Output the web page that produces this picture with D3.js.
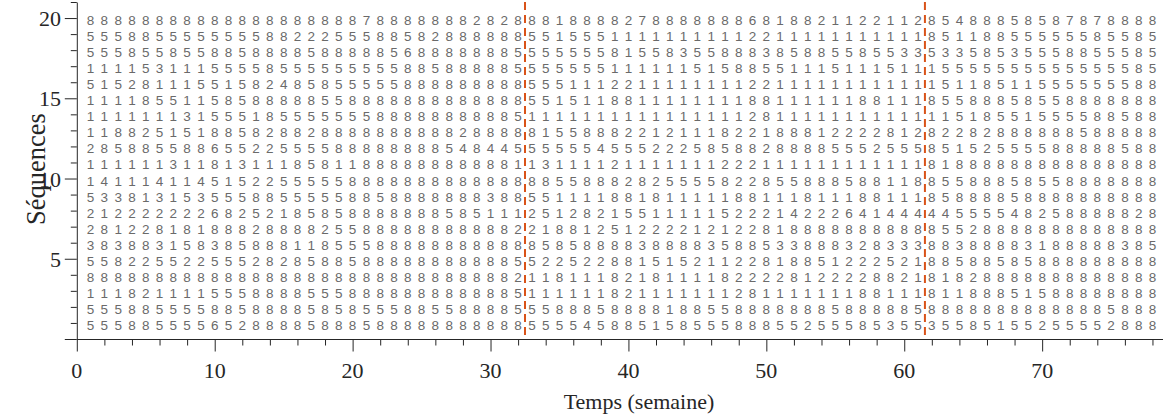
<!DOCTYPE html>
<html><head><meta charset="utf-8">
<script src="https://cdn.jsdelivr.net/npm/d3@7"></script>
<style>body{margin:0;background:#fff;overflow:hidden}</style>
</head><body><svg id="c" width="1163" height="419"></svg>
<script>
// ---- data ----
const weeks = d3.range(1, 79);            // 78 weeks
const sequenceIds = d3.range(1, 21);      // 20 sequences (1 = bottom)
// one string per sequence, states for weeks 1..78 (sequence 1 first)
const sequences = [
  "55588555565288885888" + "588888888888" + "555545885" + "15855588855255585355" + "35585155255552888",
  "55588555588588885858" + "555885588885" + "558885888" + "81885588888885888885" + "88888888888885888",
  "11182111155588885558" + "888888888885" + "111111821" + "11111128111111188111" + "81188851588888888",
  "88888888888888888888" + "888888888882" + "118111821" + "81111822228122228821" + "81828888888888888",
  "55822552255528285885" + "888888888885" + "522522881" + "51521122818851222521" + "88588585888888888",
  "38388315838588811855" + "588888888888" + "858588883" + "88883588533888328333" + "88388883188888385",
  "28122818188828888255" + "888888888882" + "218812512" + "22212122818888888888" + "85528888888888888",
  "21222222268252185858" + "888888585111" + "251282155" + "11111522214222641444" + "44555548258888828",
  "53381315355588555558" + "858888888388" + "551111881" + "81111188111811188111" + "85888858888888888",
  "14111411451522555558" + "888888888888" + "885588828" + "25555822855888588118" + "85588858558888888",
  "11111131181311185811" + "888888888881" + "131111211" + "11111222111111111111" + "81888888888888888",
  "28588558865522555588" + "888888548445" + "555554555" + "22258588288885552555" + "85152555588888588",
  "11882515188582882888" + "888888828888" + "815588822" + "12111822188812222812" + "82282888888588888",
  "11111113155518555555" + "588888888885" + "111111111" + "11111112811111111111" + "11518551555588588",
  "11118551158588888558" + "888888888888" + "551511881" + "11111118811111188111" + "85588858558888888",
  "51528111551582485855" + "555888888888" + "555111221" + "11111112211111111111" + "15118511555555588",
  "11115311155558555555" + "555885888885" + "555555111" + "11151588551115111511" + "15555555555555585",
  "55585585588588885888" + "885688888885" + "555555815" + "58355888385885585533" + "53358535558855585",
  "55588555555558822255" + "588582888888" + "551555111" + "11111112211111111111" + "85118855555585585",
  "88888888888888888888" + "788888882828" + "881888827" + "88888886818821122112" + "85488858587878888"
];
const breakWeeks = [32.5, 61.5];
const xTickValues = d3.range(0, 79, 2);
const xTickLabels = [0, 10, 20, 30, 40, 50, 60, 70];
const yTickValues = d3.range(0, 22);
const yTickLabels = [5, 10, 15, 20];
const xTitle = "Temps (semaine)";
const yTitle = "Séquences";

// ---- drawing ----
const svg = d3.select("#c");
const x = d3.scaleLinear().domain([0, 78.8]).range([76.8, 1163.5]);
const y = d3.scaleLinear().domain([0, 21]).range([339, 2]);
const axisColor = "#262626";
const serif = "'Liberation Serif','Times New Roman',serif";

// digits
const cells = [];
sequences.forEach((s, i) => {
  weeks.forEach((w, j) => { cells.push({seq: sequenceIds[i], week: w, v: s[j] || ""}); });
});
svg.append("g").selectAll("text").data(cells).join("text")
  .attr("x", d => x(d.week))
  .attr("y", d => y(d.seq) + 7)
  .attr("text-anchor", "middle")
  .attr("font-family", "'Liberation Sans',Arial,sans-serif")
  .attr("font-size", 13.5)
  .attr("fill", "#6a6a6a")
  .text(d => d.v);

// dashed break lines
svg.append("g").selectAll("line").data(breakWeeks).join("line")
  .attr("x1", d => x(d)).attr("x2", d => x(d))
  .attr("y1", y(21)).attr("y2", y(0))
  .attr("stroke", "#D95319").attr("stroke-width", 2)
  .attr("stroke-dasharray", "8,5");

// x axis
const gx = svg.append("g").attr("transform", `translate(0,${y(0)})`)
  .call(d3.axisBottom(x).tickValues(xTickValues).tickSizeOuter(0).tickFormat(""));
gx.selectAll(".tick line").attr("y2", d => d % 10 === 0 ? 12.5 : 6.5);
// y axis
const gy = svg.append("g").attr("transform", `translate(${x(0)},0)`)
  .call(d3.axisLeft(y).tickValues(yTickValues).tickSizeOuter(0).tickFormat(""));
gy.selectAll(".tick line").attr("x2", d => d % 5 === 0 ? -12 : -6);
svg.selectAll(".domain, .tick line").attr("stroke", axisColor).attr("stroke-width", 1);

// tick labels
svg.append("g").selectAll("text").data(xTickLabels).join("text")
  .attr("x", d => x(d)).attr("y", 378)
  .attr("text-anchor", "middle").attr("font-family", serif).attr("font-size", 22)
  .attr("fill", axisColor).text(d => d);
svg.append("g").selectAll("text").data(yTickLabels).join("text")
  .attr("x", 61).attr("y", d => y(d) + 8)
  .attr("text-anchor", "end").attr("font-family", serif).attr("font-size", 22)
  .attr("fill", axisColor).text(d => d);

// titles
svg.append("text").attr("x", 639).attr("y", 409).attr("text-anchor", "middle")
  .attr("font-family", serif).attr("font-size", 22).attr("fill", axisColor).text(xTitle);
svg.append("text").attr("transform", `translate(45,169) rotate(-90)`).attr("text-anchor", "middle")
  .attr("font-family", serif).attr("font-size", 26.5).attr("fill", axisColor).text(yTitle);
</script></body></html>
